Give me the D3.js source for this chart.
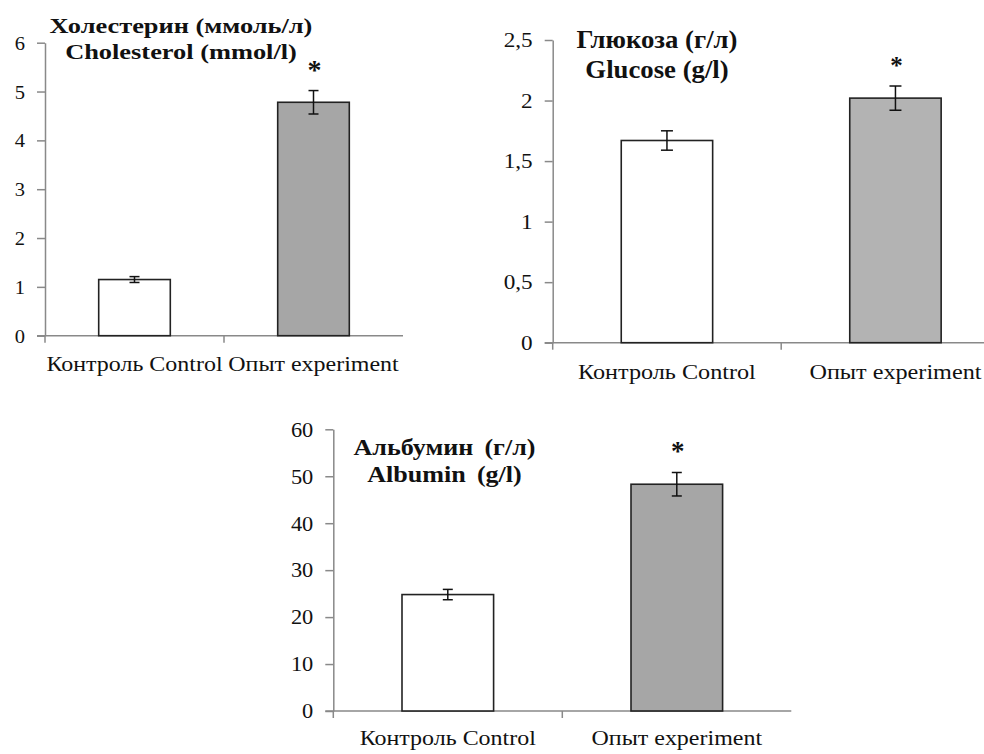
<!DOCTYPE html>
<html>
<head>
<meta charset="utf-8">
<script src="https://cdn.jsdelivr.net/npm/d3@7"></script>
<style>
body { margin: 0; background: #fff; }
</style>
</head>
<body>
<svg id="chart" width="984" height="754" style="font-family: 'Liberation Serif', 'DejaVu Serif', serif;"></svg>
<script>
var categories = ["Контроль Control", "Опыт experiment"];
var significance = ["", "*"];

var cholesterolMean = [1.15, 4.78];
var cholesterolErr = [0.06, 0.24];
var cholesterolTicks = [0, 1, 2, 3, 4, 5, 6];
var cholesterolTitle = ["Холестерин (ммоль/л)", "Cholesterol (mmol/l)"];

var glucoseMean = [1.67, 2.02];
var glucoseErr = [0.08, 0.10];
var glucoseTicks = [0, 0.5, 1, 1.5, 2, 2.5];
var glucoseTitle = ["Глюкоза (г/л)", "Glucose (g/l)"];

var albuminMean = [24.8, 48.3];
var albuminErr = [1.1, 2.5];
var albuminTicks = [0, 10, 20, 30, 40, 50, 60];
var albuminTitle = ["Альбумин (г/л)", "Albumin (g/l)"];

var svg = d3.select("#chart");
var axisColor = "#898989";
var serif = "'Liberation Serif', 'DejaVu Serif', serif";

// text in the source is a little stretched sideways, so every label gets its own x-scale
function stretch(x, y, sx) {
  return "translate(" + x + "," + y + ") scale(" + sx + ",1)";
}

function drawPanel(o) {
  var g = svg.append("g");

  var y = d3.scaleLinear()
      .domain([0, d3.max(o.ticks)])
      .range([o.bottom, o.top]);

  var x = d3.scaleBand()
      .domain(categories)
      .range([o.left, o.right]);

  var yAxis = d3.axisLeft(y)
      .tickValues(o.ticks)
      .tickSize(8)
      .tickSizeOuter(0)
      .tickFormat(function(d) { return String(d).replace(".", ","); });

  var ya = g.append("g")
      .attr("transform", "translate(" + o.left + ",0)")
      .call(yAxis);
  ya.attr("font-family", serif).attr("font-size", o.tickFont);
  ya.select(".domain").attr("stroke", axisColor).attr("stroke-width", 1.5);
  ya.selectAll(".tick line").attr("stroke", axisColor).attr("stroke-width", 1.5);
  ya.selectAll(".tick text")
      .attr("x", 0)
      .attr("dy", "0.34em")
      .attr("transform", stretch(-20, 0, o.tickSx))
      .attr("fill", "#111")
      .style("font-family", serif)
      .style("font-size", o.tickFont + "px");

  // x axis line with ticks at category boundaries
  g.append("line")
      .attr("x1", o.left - 8).attr("x2", o.right)
      .attr("y1", y(0)).attr("y2", y(0))
      .attr("stroke", axisColor).attr("stroke-width", 1.5);

  g.selectAll(".xtick")
      .data(categories)
    .enter().append("line")
      .attr("class", "xtick")
      .attr("x1", function(d) { return x(d); })
      .attr("x2", function(d) { return x(d); })
      .attr("y1", y(0))
      .attr("y2", y(0) + 7)
      .attr("stroke", axisColor).attr("stroke-width", 1.5);

  g.selectAll(".xlabel")
      .data(categories)
    .enter().append("text")
      .attr("class", "xlabel")
      .attr("transform", function(d) { return stretch(x(d) + x.bandwidth() / 2, o.catY, o.catSx); })
      .attr("text-anchor", "middle")
      .attr("fill", "#111")
      .style("font-family", serif)
      .style("font-size", o.catFont + "px")
      .text(function(d) { return d; });

  var bw = x.bandwidth() * 0.4;
  var fills = ["#ffffff", o.fill];

  g.selectAll(".bar")
      .data(o.mean)
    .enter().append("rect")
      .attr("class", "bar")
      .attr("x", function(d, i) { return x(categories[i]) + (x.bandwidth() - bw) / 2; })
      .attr("y", function(d) { return y(d); })
      .attr("width", bw)
      .attr("height", function(d) { return y(0) - y(d); })
      .attr("fill", function(d, i) { return fills[i]; })
      .attr("stroke", "#222")
      .attr("stroke-width", 1.6);

  var cx = function(i) { return x(categories[i]) + x.bandwidth() / 2; };

  o.mean.forEach(function(m, i) {
    var e = o.err[i];
    g.append("line")
        .attr("x1", cx(i)).attr("x2", cx(i))
        .attr("y1", y(m + e)).attr("y2", y(m - e))
        .attr("stroke", "#111").attr("stroke-width", 1.5);
    [m + e, m - e].forEach(function(v) {
      g.append("line")
          .attr("x1", cx(i) - o.cap / 2).attr("x2", cx(i) + o.cap / 2)
          .attr("y1", y(v)).attr("y2", y(v))
          .attr("stroke", "#111").attr("stroke-width", 1.5);
    });
    if (significance[i]) {
      g.append("text")
          .attr("x", cx(i) + 1)
          .attr("y", y(m + e) - 12)
          .attr("text-anchor", "middle")
          .attr("fill", "#111")
          .style("font-family", serif)
          .style("font-size", o.starFont + "px")
          .style("font-weight", "bold")
          .text(significance[i]);
    }
  });

  g.selectAll(".title")
      .data(o.title)
    .enter().append("text")
      .attr("class", "title")
      .attr("transform", function(d, i) { return stretch(o.titleX, o.titleY[i], o.titleSx); })
      .attr("text-anchor", "middle")
      .attr("fill", "#111")
      .style("font-family", serif)
      .style("font-size", o.titleFont + "px")
      .style("font-weight", "bold")
      .style("word-spacing", (o.wordSpacing || 0) + "px")
      .text(function(d) { return d; });
}

drawPanel({
  mean: cholesterolMean, err: cholesterolErr, ticks: cholesterolTicks, title: cholesterolTitle,
  left: 45, right: 403, top: 42.7, bottom: 335.7,
  tickFont: 19, tickSx: 1.08, catFont: 22, catSx: 1.09, catY: 370.5,
  titleX: 181, titleY: [33, 59], titleFont: 22, titleSx: 1.2,
  fill: "#a6a6a6", cap: 10, starFont: 28
});

drawPanel({
  mean: glucoseMean, err: glucoseErr, ticks: glucoseTicks, title: glucoseTitle,
  left: 552.7, right: 1009.7, top: 40, bottom: 342.7,
  tickFont: 20, tickSx: 1.16, catFont: 22, catSx: 1.1, catY: 379,
  titleX: 657, titleY: [47.5, 78], titleFont: 25, titleSx: 1.07,
  fill: "#b3b3b3", cap: 12, starFont: 25
});

drawPanel({
  mean: albuminMean, err: albuminErr, ticks: albuminTicks, title: albuminTitle,
  left: 333.3, right: 791.3, top: 429.3, bottom: 711,
  tickFont: 20, tickSx: 1.12, catFont: 22, catSx: 1.09, catY: 745,
  titleX: 444.5, titleY: [455, 482], titleFont: 23, titleSx: 1.135, wordSpacing: 4,
  fill: "#a6a6a6", cap: 10, starFont: 27
});
</script>
</body>
</html>
